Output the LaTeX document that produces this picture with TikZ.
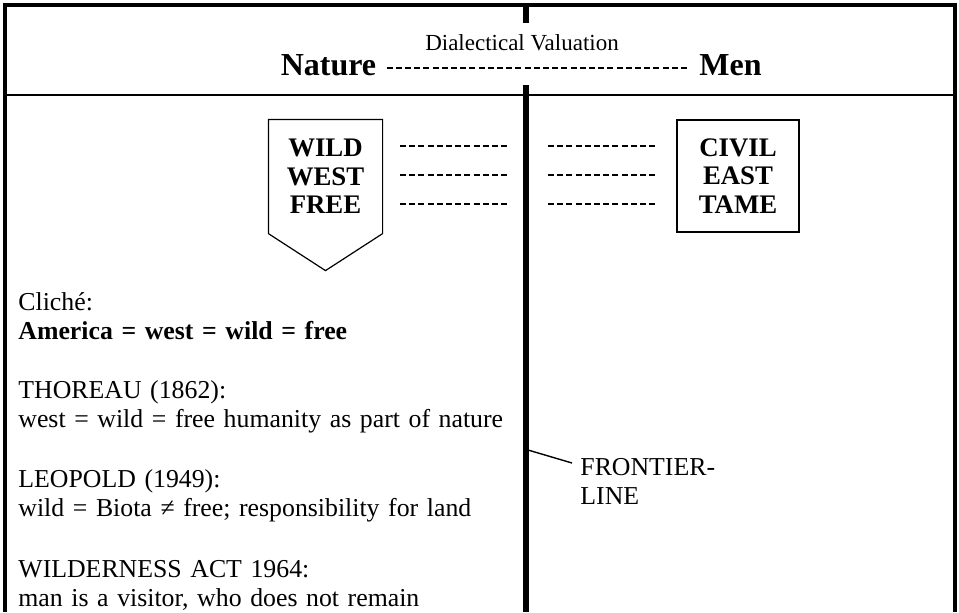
\documentclass[tikz,border=0pt]{standalone}
\usepackage{fontspec}
\setmainfont{Liberation Serif}
\usetikzlibrary{calc}
\usetikzlibrary{positioning}

\begin{document}
\begin{tikzpicture}[
    x=0.5pt,
    y=0.5pt,
    frame/.style={
      line width=1.8pt},
    midline/.style={
      line width=2.8pt},
    dashrule/.style={
      line width=0.7pt,
      dash pattern=on 3pt off 1.6pt},
    pole/.style={
      anchor=base,
      inner xsep=5pt,
      font=\fontsize{16}{18}\selectfont\bfseries},
    valbox/.style={
      align=center,
      inner sep=0pt,
      line width=0.6pt,
      font=\fontsize{13.4}{14.3}\selectfont\bfseries},
    note/.style={
      anchor=base west,
      text width=250pt,
      align=left,
      inner sep=0pt,
      font=\fontsize{12.9}{14.5}\selectfont},
  ]
  \useasboundingbox (0,0) rectangle (959,-612);
  % frame, divider and middle line
  \draw[frame] (5,-612) -- (5,-5) -- (955,-5) -- (955,-612);
  \draw[line width=0.7pt] (5,-95) -- (955,-95);
  \draw[midline] (526,-5) -- (526,-23);
  \draw[midline] (526,-85) -- (526,-612);

  % header
  \node[anchor=base, font=\fontsize{11.5}{13}\selectfont] (title) at (522,-50) {Dialectical Valuation};
  \node[pole] (nature) at (328.5,-75) {Nature};
  \node[pole] (men) at (730.5,-75) {Men};
  \draw[dashrule] ([yshift=3.5pt]nature.base east) -- ([yshift=3.5pt]men.base west);

  % the two poles
  \node[valbox, minimum width=56.5pt, minimum height=56.5pt] (wild) at (325.5,-176.5) {WILD\\WEST\\FREE};
  \draw[line width=0.6pt] (wild.north west) -- (wild.north east) -- (wild.south east)
    -- ($(wild.south)+(0,-18.5pt)$) -- (wild.south west) -- cycle;
  \node[valbox, draw, minimum width=61pt, minimum height=56pt] (civil) at (738,-176) {CIVIL\\EAST\\TAME};
  \foreach \y in {146,175,204} {
    \draw[dashrule] (400,-\y) -- (508,-\y);
    \draw[dashrule] (548,-\y) -- (655,-\y);
  }

  % positions on the nature side
  \node[note] (cliche) at (18,-310) {Cliché:\\\textbf{America = west = wild = free}};
  \node[note, below=44pt of cliche.base west, anchor=base west] (thoreau) {THOREAU (1862):\\west = wild = free humanity as part of nature};
  \node[note, below=44.5pt of thoreau.base west, anchor=base west] (leopold) {LEOPOLD (1949):\\wild = Biota ≠ free; responsibility for land};
  \node[note, below=45pt of leopold.base west, anchor=base west] (wildact) {WILDERNESS ACT 1964:\\man is a visitor, who does not remain};

  % frontier
  \node[note] (frontier) at (580,-475) {FRONTIER-\\LINE};
  \coordinate (edge) at (528,-450);
  \draw[line width=0.7pt] (edge) -- ([shift={(-4pt,6pt)}]frontier.base west);
\end{tikzpicture}
\end{document}
